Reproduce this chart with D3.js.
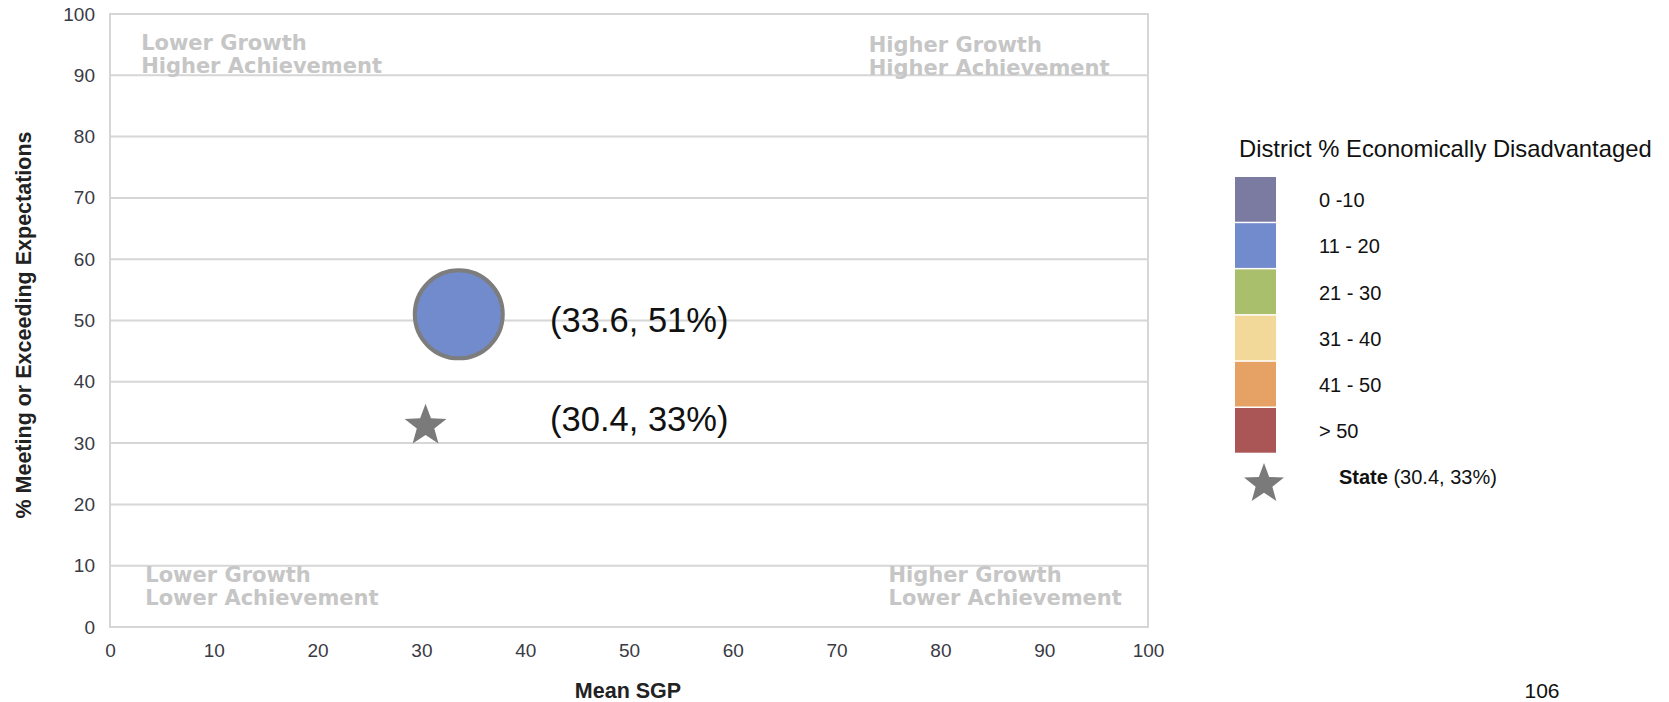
<!DOCTYPE html>
<html>
<head>
<meta charset="utf-8">
<script src="https://cdn.jsdelivr.net/npm/d3@7/dist/d3.min.js"></script>
<style>
  html, body { margin: 0; padding: 0; background: #fff; }
  svg { display: block; font-family: "Liberation Sans", Arial, Helvetica, sans-serif; }
</style>
</head>
<body>
<svg id="chart" width="1669" height="702"></svg>
<script>
// Axis ticks
const xTicks = [0, 10, 20, 30, 40, 50, 60, 70, 80, 90, 100];
const yTicks = [0, 10, 20, 30, 40, 50, 60, 70, 80, 90, 100];

// District point: mean SGP, % meeting or exceeding, economic-disadvantage band
const districtSGP = [33.6];
const districtPct = [51];
const districtBand = ["11 - 20"];

// State reference point
const stateSGP = [30.4];
const statePct = [33];

// Legend bands and their colours
const bandLabels = ["0 -10", "11 - 20", "21 - 30", "31 - 40", "41 - 50", "> 50"];
const bandColors = ["#7b7aa1", "#728bcc", "#a9bf6c", "#f2d99a", "#e6a265", "#ab5656"];

// Quadrant captions (two lines each) and their anchor in data units
const quadLines = [
  ["Lower Growth", "Higher Achievement"],
  ["Higher Growth", "Higher Achievement"],
  ["Lower Growth", "Lower Achievement"],
  ["Higher Growth", "Lower Achievement"]
];
const quadAnchorX = [3.0, 73.1, 3.4, 75.0];
const quadAnchorY = [94.1, 93.8, 7.3, 7.3];

const svg = d3.select("#chart");

const plot = { left: 110, right: 1148, top: 14, bottom: 627 };
const x = d3.scaleLinear().domain([0, 100]).range([plot.left, plot.right]);
const y = d3.scaleLinear().domain([0, 100]).range([plot.bottom, plot.top]);

const gridColor = "#d6d6d6";

// Horizontal gridlines
svg.append("g")
  .selectAll("line")
  .data(yTicks)
  .join("line")
  .attr("x1", plot.left).attr("x2", plot.right)
  .attr("y1", d => y(d)).attr("y2", d => y(d))
  .attr("stroke", gridColor).attr("stroke-width", 2);

// Plot frame
svg.append("rect")
  .attr("x", plot.left).attr("y", plot.top)
  .attr("width", plot.right - plot.left).attr("height", plot.bottom - plot.top)
  .attr("fill", "none").attr("stroke", gridColor).attr("stroke-width", 2);

// Quadrant captions
const quad = svg.append("g")
  .attr("fill", "#c6c6c6")
  .attr("font-family", "'DejaVu Sans', Verdana, sans-serif")
  .attr("font-weight", "bold")
  .attr("font-size", 21);
quadLines.forEach((lines, i) => {
  const t = quad.append("text")
    .attr("x", x(quadAnchorX[i]))
    .attr("y", y(quadAnchorY[i]));
  lines.forEach((ln, j) => {
    t.append("tspan").attr("x", x(quadAnchorX[i])).attr("dy", j === 0 ? 0 : 23).text(ln);
  });
});

// Y axis tick labels
const yAxis = d3.axisLeft(y).tickValues(yTicks).tickSize(0).tickPadding(15);
svg.append("g")
  .attr("transform", `translate(${plot.left},0)`)
  .call(yAxis)
  .call(g => g.select(".domain").remove())
  .call(g => g.selectAll("text")
    .attr("font-family", "'Liberation Sans', Arial, sans-serif")
    .attr("font-size", 19).attr("fill", "#3a3a44"));

// X axis tick labels
const xAxis = d3.axisBottom(x).tickValues(xTicks).tickSize(0).tickPadding(17);
svg.append("g")
  .attr("transform", `translate(0,${plot.bottom})`)
  .call(xAxis)
  .call(g => g.select(".domain").remove())
  .call(g => g.selectAll("text")
    .attr("font-family", "'Liberation Sans', Arial, sans-serif")
    .attr("font-size", 19).attr("fill", "#3a3a44"));

// Axis titles
svg.append("text")
  .attr("x", 628).attr("y", 698)
  .attr("text-anchor", "middle")
  .attr("font-weight", "bold").attr("font-size", 21.5)
  .attr("fill", "#222")
  .text("Mean SGP");

svg.append("text")
  .attr("transform", "translate(31,325) rotate(-90)")
  .attr("text-anchor", "middle")
  .attr("font-weight", "bold").attr("font-size", 21.5)
  .attr("fill", "#222")
  .text("% Meeting or Exceeding Expectations");

// Five-pointed star path centred on the origin
function starPath(R, r) {
  const pts = [];
  for (let k = 0; k < 10; k++) {
    const rad = k % 2 === 0 ? R : r;
    const a = -Math.PI / 2 + k * Math.PI / 5;
    pts.push([rad * Math.cos(a), rad * Math.sin(a)]);
  }
  return "M" + pts.map(p => p[0].toFixed(2) + "," + p[1].toFixed(2)).join("L") + "Z";
}

const bandColor = d3.scaleOrdinal().domain(bandLabels).range(bandColors);

// District bubble
svg.append("g")
  .selectAll("circle")
  .data(districtSGP.map((v, i) => ({ sgp: v, pct: districtPct[i], band: districtBand[i] })))
  .join("circle")
  .attr("cx", d => x(d.sgp)).attr("cy", d => y(d.pct))
  .attr("r", 44)
  .attr("fill", d => bandColor(d.band))
  .attr("stroke", "#7d7d7d").attr("stroke-width", 4);

// State star
svg.append("g")
  .selectAll("path")
  .data(stateSGP.map((v, i) => ({ sgp: v, pct: statePct[i] })))
  .join("path")
  .attr("d", starPath(22, 9.2))
  .attr("transform", d => `translate(${x(d.sgp)},${y(d.pct) + 1})`)
  .attr("fill", "#7a7a7a");

// Value annotations
const valueLabelX = 42.4;
const annotations = [
  { text: `(${districtSGP[0]}, ${districtPct[0]}%)`, pct: districtPct[0], dy: 6 },
  { text: `(${stateSGP[0]}, ${statePct[0]}%)`, pct: statePct[0], dy: -6 }
];
svg.append("g")
  .selectAll("text")
  .data(annotations)
  .join("text")
  .attr("x", x(valueLabelX))
  .attr("y", d => y(d.pct) + d.dy)
  .attr("dominant-baseline", "central")
  .attr("font-size", 34.5)
  .attr("fill", "#111")
  .text(d => d.text);

// Legend
const legend = svg.append("g");
legend.append("text")
  .attr("x", 1239).attr("y", 157)
  .attr("font-size", 23.8).attr("fill", "#111")
  .text("District % Economically Disadvantaged");

const swatchTop = 177, swatchStep = 46.2;
legend.selectAll("rect")
  .data(bandLabels)
  .join("rect")
  .attr("x", 1235).attr("y", (d, i) => swatchTop + i * swatchStep)
  .attr("width", 41).attr("height", swatchStep - 1.5)
  .attr("fill", d => bandColor(d));

legend.selectAll("text.band")
  .data(bandLabels)
  .join("text")
  .attr("class", "band")
  .attr("x", 1319).attr("y", (d, i) => swatchTop + i * swatchStep + swatchStep / 2)
  .attr("dominant-baseline", "central")
  .attr("font-size", 20).attr("fill", "#111")
  .text(d => d);

legend.append("path")
  .attr("d", starPath(21, 8.8))
  .attr("transform", "translate(1264,484)")
  .attr("fill", "#7a7a7a");

const stateLabel = legend.append("text")
  .attr("x", 1339).attr("y", 477)
  .attr("dominant-baseline", "central")
  .attr("font-size", 20).attr("fill", "#111");
stateLabel.append("tspan").attr("font-weight", "bold").text("State");
stateLabel.append("tspan").text(` (${stateSGP[0]}, ${statePct[0]}%)`);

// Page number
svg.append("text")
  .attr("x", 1542).attr("y", 698)
  .attr("text-anchor", "middle")
  .attr("font-size", 21).attr("fill", "#111")
  .text("106");
</script>
</body>
</html>
